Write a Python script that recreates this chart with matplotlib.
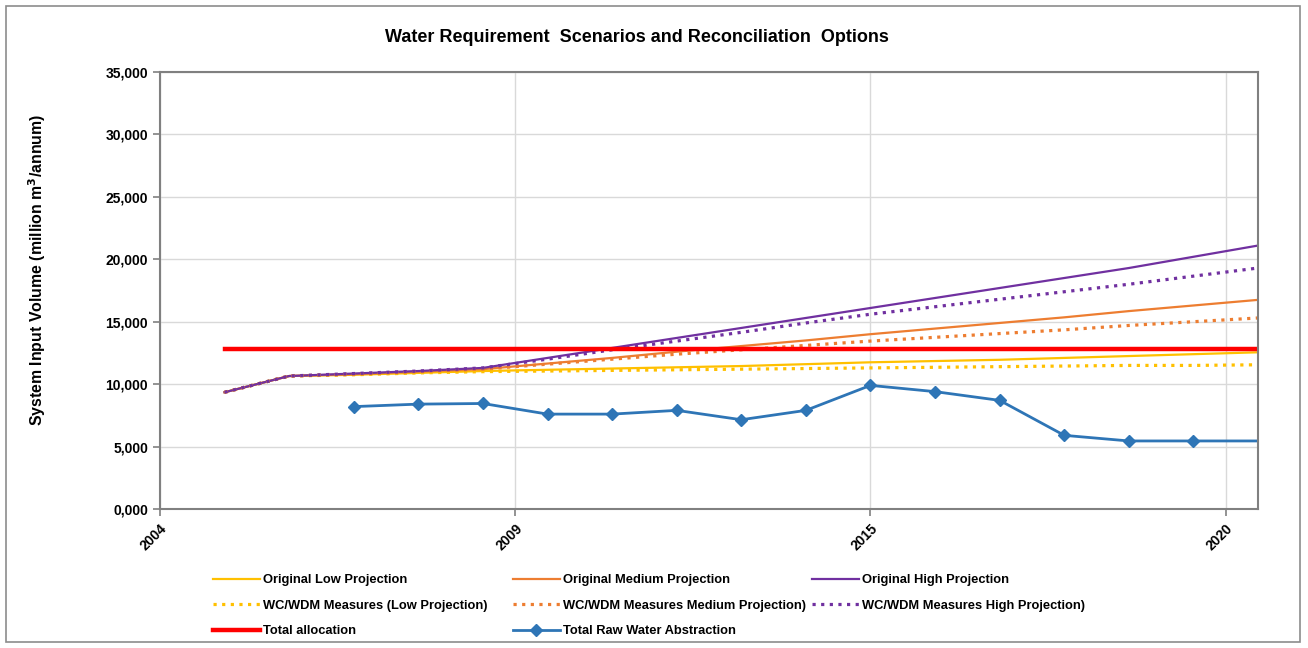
import matplotlib.pyplot as plt
from matplotlib.patches import Rectangle
from matplotlib.ticker import FuncFormatter

plt.rcParams['font.family'] = ['Liberation Sans', 'DejaVu Sans']
plt.rcParams['font.weight'] = 'bold'

# yearly data 2005 - 2021
years = list(range(2005, 2022))
low = [9350, 10650, 10750, 10900, 11050, 11150, 11250, 11350, 11450, 11600, 11750, 11850, 11950, 12100, 12250, 12400, 12550]
medium = [9350, 10650, 10800, 11000, 11200, 11650, 12100, 12600, 13050, 13500, 14000, 14450, 14900, 15350, 15850, 16300, 16750]
high = [9350, 10650, 10850, 11050, 11300, 12100, 12900, 13700, 14500, 15300, 16100, 16900, 17700, 18500, 19300, 20200, 21100]
wc_low = [9350, 10650, 10750, 10900, 11000, 11050, 11100, 11150, 11200, 11250, 11300, 11350, 11400, 11450, 11500, 11500, 11550]
wc_medium = [9350, 10650, 10800, 11000, 11200, 11600, 12000, 12400, 12750, 13100, 13450, 13750, 14050, 14350, 14700, 15000, 15300]
wc_high = [9350, 10650, 10850, 11050, 11300, 12000, 12750, 13450, 14150, 14900, 15600, 16200, 16800, 17400, 18000, 18650, 19300]
allocation = [12800] * len(years)

abs_years = list(range(2007, 2022))
abstraction = [8200, 8400, 8450, 7600, 7600, 7900, 7150, 7900, 9900, 9400, 8700, 5900, 5450, 5450, 5450]

# Excel date axis, major unit 66 months
tick_pos = [2004, 2009.5, 2015, 2020.5]
tick_labels = ['2004', '2009', '2015', '2020']

c_low = '#FFC000'
c_med = '#ED7D31'
c_high = '#7030A0'
c_red = '#FF0000'
c_blue = '#2E75B6'
dots = (0, (1, 1.7))

fig = plt.figure(figsize=(13.08, 6.48), dpi=100)
ax = fig.add_axes([160 / 1308, 1 - 509 / 648, 1098 / 1308, 437 / 648])

h_low, = ax.plot(years, low, color=c_low, lw=1.6, label='Original Low Projection')
h_med, = ax.plot(years, medium, color=c_med, lw=1.6, label='Original Medium Projection')
h_high, = ax.plot(years, high, color=c_high, lw=1.6, label='Original High Projection')
h_wlow, = ax.plot(years, wc_low, color=c_low, lw=2.3, ls=dots, label='WC/WDM Measures (Low Projection)')
h_wmed, = ax.plot(years, wc_medium, color=c_med, lw=2.3, ls=dots, label='WC/WDM Measures Medium Projection)')
h_whigh, = ax.plot(years, wc_high, color=c_high, lw=2.3, ls=dots, label='WC/WDM Measures High Projection)')
h_red, = ax.plot(years, allocation, color=c_red, lw=3.2, label='Total allocation')
h_blue, = ax.plot(abs_years, abstraction, color=c_blue, lw=2, marker='D', ms=6,
                  markevery=list(range(len(abs_years) - 1)), label='Total Raw Water Abstraction')

ax.set_xlim(2004, 2021)
ax.set_ylim(0, 35000)
ax.set_yticks(range(0, 35001, 5000))
ax.yaxis.set_major_formatter(FuncFormatter(lambda v, p: '%d,%03d' % (int(v) // 1000, int(v) % 1000)))
ax.set_xticks(tick_pos)
ax.set_xticklabels(tick_labels, rotation=45, ha='right', rotation_mode='anchor')
ax.tick_params(axis='both', labelsize=10, color='#808080', length=5, width=1.2)
ax.tick_params(axis='x', pad=4)
ax.grid(True, color='#D9D9D9', lw=1)
ax.set_axisbelow(True)
for s in ax.spines.values():
    s.set_color('#808080')
    s.set_linewidth(1.5)

fig.text(37 / 1308, 1 - 270 / 648, 'System Input Volume (million m$\\mathbf{^3}$/annum)',
         rotation=90, ha='center', va='center', fontsize=11.4, fontweight='bold')
fig.text(637 / 1308, 1 - 37 / 648, 'Water Requirement  Scenarios and Reconciliation  Options',
         ha='center', va='center', fontsize=13, fontweight='bold')

cols = [([h_low, h_wlow, h_red], 213), ([h_med, h_wmed, h_blue], 513), ([h_high, h_whigh], 812)]
for hs, x0 in cols:
    lg = fig.legend(handles=hs, loc='upper left', bbox_to_anchor=(x0 / 1308, 1 - 574 / 648),
                    frameon=False, fontsize=9.3, handlelength=3.6, handletextpad=0.25,
                    labelspacing=1.05, borderpad=0, borderaxespad=0)

fig.patches.append(Rectangle((6 / 1308, 6 / 648), 1294 / 1308, 636 / 648, transform=fig.transFigure,
                             fill=False, edgecolor='#8C8C8C', lw=1.2))

fig.savefig('out.png', dpi=100)
